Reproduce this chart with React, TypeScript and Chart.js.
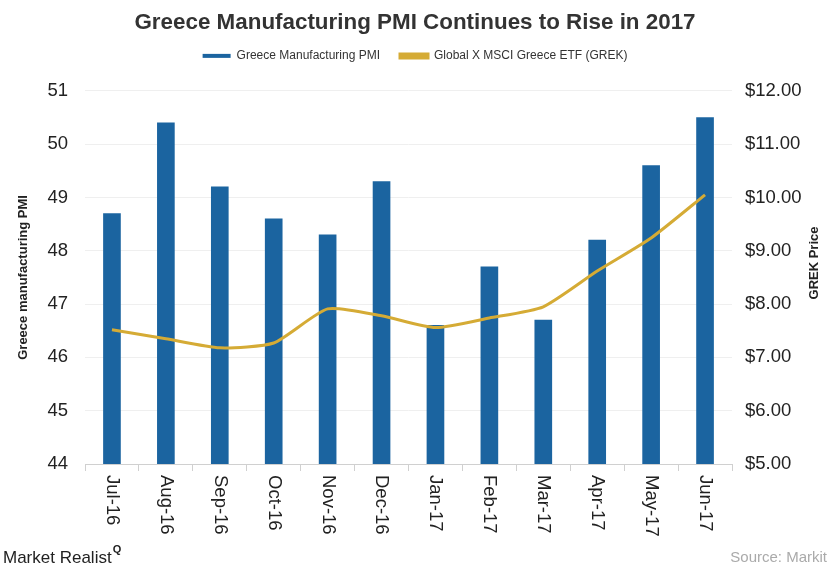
import React, { useEffect, useRef } from "react";
import { Chart, registerables } from "chart.js";

Chart.register(...registerables);

const categories = ["Jul-16", "Aug-16", "Sep-16", "Oct-16", "Nov-16", "Dec-16", "Jan-17", "Feb-17", "Mar-17", "Apr-17", "May-17", "Jun-17"];
const pmiValues = [48.7, 50.4, 49.2, 48.6, 48.3, 49.3, 46.6, 47.7, 46.7, 48.2, 49.6, 50.5];
const grekPrices = [7.52, 7.35, 7.18, 7.27, 7.91, 7.78, 7.56, 7.74, 7.95, 8.62, 9.24, 10.05];
const titleText = "Greece Manufacturing PMI Continues to Rise in 2017";
const barLabel = "Greece Manufacturing PMI";
const lineLabel = "Global X MSCI Greece ETF (GREK)";
const leftAxisTitle = "Greece manufacturing PMI";
const rightAxisTitle = "GREK Price";
const brandText = "Market Realist";
const sourceText = "Source: Markit";

const FONT = "'Liberation Sans', Arial, Helvetica, sans-serif";
const BAR_COLOR = "#1b64a0";
const LINE_COLOR = "#d5ab35";

const customPlugin = {
  id: "customText",
  afterDraw(chart: any) {
    const ctx = chart.ctx;
    const x = chart.scales.x;
    const area = chart.chartArea;
    ctx.save();
    // x labels rotated, reading top-to-bottom
    ctx.font = `18.5px ${FONT}`;
    ctx.fillStyle = "#222";
    ctx.textAlign = "left";
    ctx.textBaseline = "middle";
    categories.forEach((c, i) => {
      const px = x.getPixelForTick(i);
      ctx.save();
      ctx.translate(px, area.bottom + 11);
      ctx.rotate(Math.PI / 2);
      ctx.fillText(c, 0, 0);
      ctx.restore();
    });
    // right axis title reading bottom-to-top
    ctx.save();
    ctx.font = `bold 13px ${FONT}`;
    ctx.fillStyle = "#222";
    ctx.textAlign = "center";
    ctx.textBaseline = "middle";
    ctx.translate(814, 263);
    ctx.rotate(-Math.PI / 2);
    ctx.fillText(rightAxisTitle, 0, 0);
    ctx.restore();
    // footer
    ctx.font = `17px ${FONT}`;
    ctx.fillStyle = "#222";
    ctx.textAlign = "left";
    ctx.textBaseline = "alphabetic";
    ctx.fillText(brandText, 3, 563);
    const w = ctx.measureText(brandText).width;
    ctx.font = `bold 11px ${FONT}`;
    ctx.fillText("Q", 3 + w + 1, 553);
    ctx.font = `15px ${FONT}`;
    ctx.fillStyle = "#aaa";
    ctx.textAlign = "right";
    ctx.fillText(sourceText, 827, 562);
    ctx.restore();
  },
};

export default function App() {
  const ref = useRef<HTMLCanvasElement | null>(null);
  useEffect(() => {
    if (!ref.current) return;
    const chart = new Chart(ref.current, {
      type: "bar",
      data: {
        labels: categories,
        datasets: [
          {
            type: "bar",
            label: barLabel,
            data: pmiValues,
            backgroundColor: BAR_COLOR,
            borderWidth: 0,
            barThickness: 17,
            yAxisID: "y",
            order: 1,
          } as any,
          {
            type: "line",
            label: lineLabel,
            data: grekPrices,
            borderColor: LINE_COLOR,
            backgroundColor: LINE_COLOR,
            borderWidth: 3,
            pointRadius: 0,
            tension: 0.2,
            yAxisID: "y1",
            order: 0,
          } as any,
        ],
      },
      options: {
        responsive: false,
        animation: false,
        devicePixelRatio: 1,
        layout: { padding: { top: 0, left: 0, right: 0, bottom: 0 } },
        plugins: {
          title: {
            display: true,
            text: titleText,
            color: "#333",
            font: { family: FONT, size: 22.4, weight: "bold" },
            padding: { top: 9, bottom: -6 },
          },
          legend: {
            display: true,
            labels: {
              color: "#333",
              font: { family: FONT, size: 12 },
              boxWidth: 28,
              boxHeight: 4,
              padding: 20,
              sort: (a: any, b: any) => a.datasetIndex - b.datasetIndex,
            },
          },
          tooltip: { enabled: false },
        },
        scales: {
          x: {
            ticks: { display: false },
            grid: { offset: true, drawOnChartArea: false, tickLength: 7, color: "#d0d0d0" },
            border: { color: "#d0d0d0" },
            afterFit: (s: any) => { s.height = 103; },
          },
          xTop: {
            position: "top",
            display: true,
            ticks: { display: false },
            grid: { display: false },
            border: { display: false },
            afterFit: (s: any) => { s.height = 19; },
          },
          y: {
            position: "left",
            min: 44,
            max: 51,
            ticks: { stepSize: 1, color: "#222", font: { family: FONT, size: 18.5 }, padding: 17 },
            grid: { color: "#efefef", drawTicks: false },
            border: { display: false },
            title: {
              display: true,
              text: leftAxisTitle,
              color: "#222",
              font: { family: FONT, size: 13, weight: "bold" },
              padding: { top: 16, bottom: 0 },
            },
            afterFit: (s: any) => { s.width = 85; },
          },
          y1: {
            position: "right",
            min: 5,
            max: 12,
            ticks: {
              stepSize: 1,
              color: "#222",
              font: { family: FONT, size: 18.5 },
              padding: 13,
              callback: (v: any) => "$" + Number(v).toFixed(2),
            },
            grid: { drawOnChartArea: false, drawTicks: false },
            border: { display: false },
            afterFit: (s: any) => { s.width = 98; },
          },
        },
      } as any,
      plugins: [customPlugin],
    });
    return () => chart.destroy();
  }, []);
  return (
    <div style={{ position: "fixed", left: 0, top: 0, width: 830, height: 567, background: "#fff" }}>
      <canvas ref={ref} width={830} height={567} style={{ width: 830, height: 567, display: "block" }} />
    </div>
  );
}
